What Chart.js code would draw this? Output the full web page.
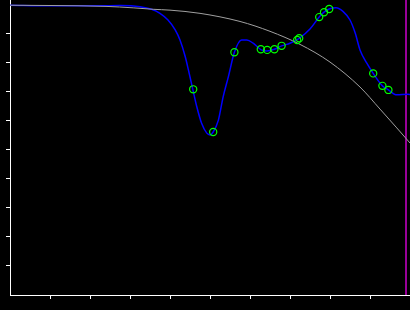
<!DOCTYPE html>
<html>
<head>
<meta charset="utf-8">
<script src="https://cdn.jsdelivr.net/npm/chart.js@4"></script>
<style>
  html, body { margin: 0; padding: 0; background: #000; }
  canvas { display: block; }
</style>
</head>
<body>
<canvas id="chart" width="410" height="310"></canvas>
<script>
// Smooth fitted curve (blue)
const fitX = [0, 1, 2.25, 2.75, 3.25, 3.54, 3.75, 3.95, 4.13, 4.25, 4.38, 4.46, 4.57, 4.67, 4.79, 4.92, 5.0, 5.08, 5.21, 5.33, 5.46, 5.61, 5.79, 5.92, 6.08, 6.28, 6.42, 6.61, 6.79, 7.0, 7.23, 7.5, 7.73, 7.85, 7.98, 8.15, 8.33, 8.5, 8.63, 8.75, 8.92, 9.08, 9.31, 9.46, 9.67, 9.95, 10];
const fitY = [9.99, 9.97, 9.97, 9.98, 9.94, 9.85, 9.71, 9.48, 9.14, 8.79, 8.22, 7.76, 7.09, 6.49, 5.92, 5.58, 5.52, 5.62, 6.03, 6.84, 7.53, 8.37, 8.79, 8.79, 8.68, 8.45, 8.41, 8.47, 8.59, 8.68, 8.85, 9.17, 9.58, 9.75, 9.86, 9.90, 9.77, 9.48, 9.03, 8.45, 7.99, 7.64, 7.21, 7.07, 6.90, 6.92, 6.91];

// Sampled points (green circles)
const sampleX = [4.58, 5.08, 5.61, 6.27, 6.43, 6.61, 6.79, 7.18, 7.23, 7.73, 7.85, 7.98, 9.08, 9.31, 9.46];
const sampleY = [7.09, 5.62, 8.37, 8.47, 8.45, 8.47, 8.59, 8.79, 8.85, 9.58, 9.75, 9.86, 7.64, 7.21, 7.07];

// Reference curve (grey)
const refX = [0, 1, 2.4, 3.08, 3.58, 4.0, 4.75, 5.75, 6.5, 7.25, 8.0, 8.75, 9.25, 9.67, 10];
const refY = [9.99, 9.98, 9.95, 9.90, 9.85, 9.82, 9.71, 9.43, 9.09, 8.64, 8.03, 7.17, 6.41, 5.76, 5.24];

// Vertical marker (magenta)
const markerX = 9.9;

// Axis ranges and tick step
const xRange = [0, 10];
const yRange = [0, 10.17];
const tickStep = 1;

const toPoints = (xs, ys) => xs.map((x, i) => ({ x: x, y: ys[i] }));

// hide tick marks at the ends of each axis
const innerTicks = (scale) => {
  scale.ticks = scale.ticks.filter(t => t.value > scale.min && t.value < Math.floor(scale.max));
};

const axisStyle = (range) => ({
  type: 'linear',
  min: range[0],
  max: range[1],
  ticks: { display: false, stepSize: tickStep },
  grid: { drawOnChartArea: false, drawTicks: true, tickLength: 4, tickWidth: 1, color: '#ffffff' },
  border: { display: true, color: '#ffffff', width: 1 },
  afterBuildTicks: innerTicks
});

const config = {
  type: 'scatter',
  data: {
    datasets: [
      {
        label: 'samples',
        data: toPoints(sampleX, sampleY),
        showLine: false,
        pointStyle: 'circle',
        pointRadius: 3.6,
        pointBorderWidth: 1.2,
        pointBorderColor: '#00ff00',
        pointBackgroundColor: 'rgba(0,0,0,0)'
      },
      {
        label: 'reference',
        data: toPoints(refX, refY),
        showLine: true,
        borderColor: '#a0a0a0',
        borderWidth: 1,
        pointRadius: 0,
        tension: 0.4,
        cubicInterpolationMode: 'monotone'
      },
      {
        label: 'fit',
        data: toPoints(fitX, fitY),
        showLine: true,
        borderColor: '#0000ff',
        borderWidth: 1.5,
        pointRadius: 0,
        tension: 0.4,
        cubicInterpolationMode: 'monotone'
      },
      {
        label: 'marker',
        data: [{ x: markerX, y: yRange[0] }, { x: markerX, y: yRange[1] }],
        showLine: true,
        borderColor: '#990099',
        borderWidth: 2,
        pointRadius: 0
      }
    ]
  },
  options: {
    responsive: false,
    animation: false,
    layout: { autoPadding: false, padding: { left: 6, top: 0, right: 0, bottom: 11 } },
    plugins: {
      legend: { display: false },
      tooltip: { enabled: false }
    },
    scales: {
      x: axisStyle(xRange),
      y: axisStyle(yRange)
    }
  }
};

new Chart(document.getElementById('chart'), config);
</script>
</body>
</html>
